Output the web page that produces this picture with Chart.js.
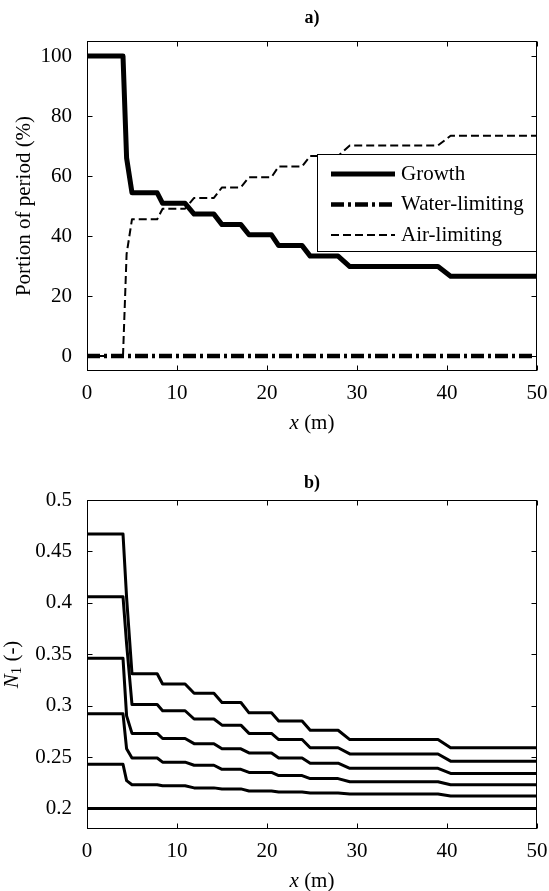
<!DOCTYPE html>
<html lang="en">
<head>
<meta charset="UTF-8">
<title>Portion of period and N1 along x</title>
<style>
    body {
        margin: 0;
        background: #fff;
    }

    canvas {
        display: block;
    }
</style>
<script src="https://cdn.jsdelivr.net/npm/chart.js"></script>
</head>
<body>
<canvas id="chartA" width="549" height="445"></canvas>
<canvas id="chartB" width="549" height="446"></canvas>

<script>
    // x (m) where the stepped profiles change level
    const xSteps = [0, 4.0, 4.4, 5.0, 7.8, 8.4, 10.9, 11.9, 14.1, 15.0, 17.1, 18.0, 20.5, 21.3, 23.9, 24.8, 27.9, 29.2, 39.0, 40.4, 50];

    // a) portion of period (%)
    const growth = [100, 100, 66, 54.4, 54.4, 50.9, 50.9, 47.3, 47.3, 43.8, 43.8, 40.4, 40.4, 36.8, 36.8, 33.3, 33.3, 29.8, 29.8, 26.6, 26.6];
    const waterLimiting = [0, 0, 0, 0, 0, 0, 0, 0, 0, 0, 0, 0, 0, 0, 0, 0, 0, 0, 0, 0, 0];
    const airLimiting = [0, 0, 34, 45.6, 45.6, 49.1, 49.1, 52.7, 52.7, 56.2, 56.2, 59.6, 59.6, 63.2, 63.2, 66.7, 66.7, 70.2, 70.2, 73.4, 73.4];
    const labelsA = ['Growth', 'Water-limiting', 'Air-limiting'];

    // b) N1 (-), one curve per case
    const n1Case1 = [0.467, 0.467, 0.405, 0.331, 0.331, 0.321, 0.321, 0.312, 0.312, 0.303, 0.303, 0.293, 0.293, 0.285, 0.285, 0.276, 0.276, 0.267, 0.267, 0.259, 0.259];
    const n1Case2 = [0.406, 0.406, 0.360, 0.301, 0.301, 0.295, 0.295, 0.287, 0.287, 0.281, 0.281, 0.273, 0.273, 0.267, 0.267, 0.259, 0.259, 0.253, 0.253, 0.246, 0.246];
    const n1Case3 = [0.346, 0.346, 0.290, 0.273, 0.273, 0.268, 0.268, 0.263, 0.263, 0.258, 0.258, 0.254, 0.254, 0.249, 0.249, 0.244, 0.244, 0.239, 0.239, 0.234, 0.234];
    const n1Case4 = [0.292, 0.292, 0.258, 0.249, 0.249, 0.245, 0.245, 0.242, 0.242, 0.238, 0.238, 0.235, 0.235, 0.232, 0.232, 0.229, 0.229, 0.226, 0.226, 0.223, 0.223];
    const n1Case5 = [0.243, 0.243, 0.227, 0.223, 0.223, 0.222, 0.222, 0.220, 0.220, 0.219, 0.219, 0.217, 0.217, 0.216, 0.216, 0.215, 0.215, 0.214, 0.214, 0.212, 0.212];
    const n1Case6 = [0.2, 0.2, 0.2, 0.2, 0.2, 0.2, 0.2, 0.2, 0.2, 0.2, 0.2, 0.2, 0.2, 0.2, 0.2, 0.2, 0.2, 0.2, 0.2, 0.2, 0.2];

    const xTicks = [0, 10, 20, 30, 40, 50];
    const yTicksA = [0, 20, 40, 60, 80, 100];
    const yTicksB = [0.2, 0.25, 0.3, 0.35, 0.4, 0.45, 0.5];

    const SERIF = '"Liberation Serif", "Times New Roman", serif';

    function points(ys) {
        return xSteps.map((x, i) => ({ x: x, y: ys[i] }));
    }

    // draws a line of text made of differently styled pieces, centred on (cx, cy)
    function drawRuns(ctx, runs, cx, cy, angle) {
        ctx.save();
        ctx.translate(cx, cy);
        ctx.rotate(angle);
        ctx.fillStyle = '#000';
        ctx.textBaseline = 'middle';
        ctx.textAlign = 'left';
        let total = 0;
        const parts = runs.map(r => {
            const font = (r.italic ? 'italic ' : '') + (r.bold ? 'bold ' : '') + r.size + 'px ' + SERIF;
            ctx.font = font;
            const w = ctx.measureText(r.text).width;
            total += w;
            return { text: r.text, font: font, w: w, shift: r.shift || 0 };
        });
        let x = -total / 2;
        for (const p of parts) {
            ctx.font = p.font;
            ctx.fillText(p.text, x, p.shift);
            x += p.w;
        }
        ctx.restore();
    }

    function panelText(title, titleGap, xTitle, yTitle, yGap) {
        return {
            id: 'panelText',
            afterDraw(chart) {
                const { ctx, chartArea: a } = chart;
                const midX = (a.left + a.right) / 2;
                const midY = (a.top + a.bottom) / 2;
                drawRuns(ctx, title, midX, a.top - titleGap, 0);
                drawRuns(ctx, xTitle, midX, a.bottom + 52, 0);
                drawRuns(ctx, yTitle, a.left - yGap, midY, -Math.PI / 2);
            }
        };
    }

    // box round the axes with inward ticks on all four sides
    const frameTicks = {
        id: 'frameTicks',
        afterDatasetsDraw(chart) {
            const { ctx, chartArea: a, scales: { x, y } } = chart;
            const L = Math.round(a.left) + 0.5, R = Math.round(a.right) - 0.5;
            const T = Math.round(a.top) + 0.5, B = Math.round(a.bottom) - 0.5;
            const len = 5;
            ctx.save();
            ctx.strokeStyle = '#000';
            ctx.lineWidth = 1;
            ctx.beginPath();
            x.ticks.forEach(t => {
                const px = Math.round(x.getPixelForValue(t.value)) + 0.5;
                ctx.moveTo(px, B); ctx.lineTo(px, B - len);
                ctx.moveTo(px, T); ctx.lineTo(px, T + len);
            });
            y.ticks.forEach(t => {
                const py = Math.round(y.getPixelForValue(t.value)) + 0.5;
                ctx.moveTo(L, py); ctx.lineTo(L + len, py);
                ctx.moveTo(R, py); ctx.lineTo(R - len, py);
            });
            ctx.stroke();
            ctx.strokeRect(L, T, R - L, B - T);
            ctx.restore();
        }
    };

    // boxed legend inside the upper right of panel a)
    const boxLegend = {
        id: 'boxLegend',
        afterDraw(chart) {
            const { ctx, chartArea: a } = chart;
            const left = Math.round(a.left + 230), top = Math.round(a.top + 113);
            const right = Math.round(a.right), bottom = Math.round(a.top + 210);
            ctx.save();
            ctx.fillStyle = '#fff';
            ctx.fillRect(left, top, right - left, bottom - top);
            ctx.strokeStyle = '#000';
            ctx.lineWidth = 1;
            ctx.strokeRect(left + 0.5, top + 0.5, right - left - 1, bottom - top);
            chart.data.datasets.forEach((ds, i) => {
                const yy = top + 20 + i * 30.5;
                ctx.beginPath();
                ctx.setLineDash(ds.borderDash || []);
                ctx.lineWidth = ds.borderWidth;
                ctx.strokeStyle = ds.borderColor;
                ctx.moveTo(left + 14, yy);
                ctx.lineTo(left + 78, yy);
                ctx.stroke();
                ctx.setLineDash([]);
                ctx.fillStyle = '#000';
                ctx.font = '21px ' + SERIF;
                ctx.textBaseline = 'middle';
                ctx.fillText(ds.label, left + 84, yy);
            });
            ctx.restore();
        }
    };

    function axesOptions(yMin, yMax, yTicks, padTop, xAxisHeight) {
        const tickFont = { family: SERIF, size: 21 };
        return {
            responsive: false,
            animation: false,
            events: [],
            layout: { padding: { left: 0, right: 12, top: padTop, bottom: 0 } },
            elements: {
                point: { radius: 0 },
                line: { tension: 0, borderCapStyle: 'butt', borderJoinStyle: 'round' }
            },
            plugins: { legend: { display: false }, tooltip: { enabled: false } },
            scales: {
                x: {
                    type: 'linear',
                    min: 0,
                    max: 50,
                    grid: { display: false },
                    border: { display: false },
                    afterBuildTicks: s => { s.ticks = xTicks.map(v => ({ value: v })); },
                    afterFit: s => {
                        s.height = xAxisHeight;
                        s.paddingLeft = 0;
                        s.paddingRight = 0;
                    },
                    ticks: { color: '#000', font: tickFont, padding: 2, maxRotation: 0, callback: v => String(v) }
                },
                y: {
                    type: 'linear',
                    min: yMin,
                    max: yMax,
                    grid: { display: false },
                    border: { display: false },
                    afterBuildTicks: s => { s.ticks = yTicks.map(v => ({ value: v })); },
                    afterFit: s => {
                        s.width = 87;
                        s.paddingTop = 0;
                        s.paddingBottom = 0;
                    },
                    ticks: { color: '#000', font: tickFont, padding: 7, callback: v => String(v) }
                }
            }
        };
    }

    new Chart(document.getElementById('chartA'), {
        type: 'line',
        data: {
            datasets: [
                { label: labelsA[0], data: points(growth), borderColor: '#000', borderWidth: 5 },
                { label: labelsA[1], data: points(waterLimiting), borderColor: '#000', borderWidth: 4.5, borderDash: [13, 4, 3, 4] },
                { label: labelsA[2], data: points(airLimiting), borderColor: '#000', borderWidth: 2, borderDash: [8, 4] }
            ]
        },
        options: axesOptions(-5, 105, yTicksA, 41, 74),
        plugins: [
            frameTicks,
            boxLegend,
            panelText(
                [{ text: 'a)', size: 18, bold: true }], 23,
                [{ text: 'x', size: 21, italic: true }, { text: ' (m)', size: 21 }],
                [{ text: 'Portion of period (%)', size: 21 }],
                63
            )
        ]
    });

    const n1Cases = [n1Case1, n1Case2, n1Case3, n1Case4, n1Case5, n1Case6];

    new Chart(document.getElementById('chartB'), {
        type: 'line',
        data: {
            datasets: n1Cases.map((ys, i) => ({
                label: 'case ' + (i + 1),
                data: points(ys),
                borderColor: '#000',
                borderWidth: 3
            }))
        },
        options: axesOptions(0.18, 0.5, yTicksB, 55, 62),
        plugins: [
            frameTicks,
            panelText(
                [{ text: 'b)', size: 18, bold: true }], 17,
                [{ text: 'x', size: 21, italic: true }, { text: ' (m)', size: 21 }],
                [{ text: 'N', size: 21, italic: true }, { text: '1', size: 15, shift: 5 }, { text: ' (-)', size: 21 }],
                75
            )
        ]
    });
</script>
</body>
</html>
